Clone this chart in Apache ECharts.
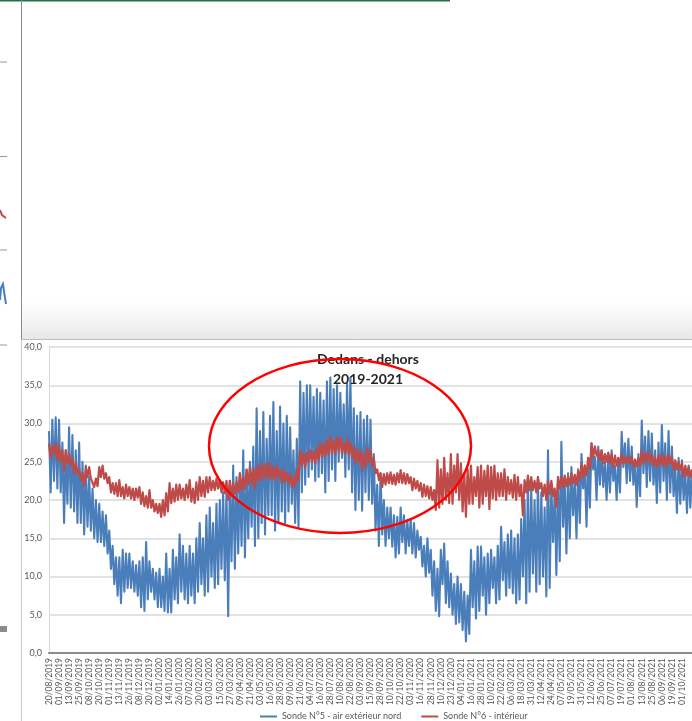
<!DOCTYPE html>
<html><head><meta charset="utf-8">
<script src="https://cdn.jsdelivr.net/npm/echarts@6/dist/echarts.min.js"></script>
<style>html,body{margin:0;padding:0;background:#fff;overflow:hidden}#c{width:692px;height:721px}</style>
</head><body><div id="c"></div>
<script>
// Tick labels of the category axis (one every ~12.5 days)
const tickLabels = [
  "20/08/2019","01/09/2019","13/09/2019","25/09/2019","08/10/2019","20/10/2019","01/11/2019","13/11/2019",
  "26/11/2019","08/12/2019","20/12/2019","02/01/2020","14/01/2020","26/01/2020","07/02/2020","20/02/2020",
  "03/03/2020","15/03/2020","27/03/2020","09/04/2020","21/04/2020","03/05/2020","16/05/2020","28/05/2020",
  "09/06/2020","21/06/2020","04/07/2020","16/07/2020","28/07/2020","10/08/2020","22/08/2020","03/09/2020",
  "15/09/2020","28/09/2020","10/10/2020","22/10/2020","03/11/2020","16/11/2020","28/11/2020","10/12/2020",
  "23/12/2020","04/01/2021","16/01/2021","28/01/2021","10/02/2021","22/02/2021","06/03/2021","18/03/2021",
  "31/03/2021","12/04/2021","24/04/2021","07/05/2021","19/05/2021","31/05/2021","12/06/2021","25/06/2021",
  "07/07/2021","19/07/2021","01/08/2021","13/08/2021","25/08/2021","06/09/2021","19/09/2021","01/10/2021"
];
const samplesPerTick = 6;

// Sonde N°5 - air extérieur nord (alternating daily highs / lows)
const outdoorTemp = [
  29,21,30.5,22.5,30.8,21.5,  30.5,21,27.5,17,26.5,19.5,  29.5,19,28.5,18.5,26.5,17,  27.5,17,25,15.5,24.5,16.5,
  23,16,21.5,15,20,14.5,  19.5,14.5,18.5,14,18,13,  16,11,14,9,12.5,7.5,  12.5,6.5,13.5,8,13,8.5,
  13,8.5,12,8,11.5,7.5,  12,6,12.5,5.5,14.5,7,  12,8,11,7,10.5,6,  11,6,10,5.5,13,5.3,
  11,5.3,13.5,7,12.5,6.5,  15.5,8,14,7,13,6.5,  14,7.5,13,6.5,15,8,  17,9,15,7.5,18,8,
  19,10,17,8.5,19.5,9,  20,11,21,9.5,21.5,4.8,  22.5,12,24.5,11,23,13,  23.5,14,26.5,12.5,24,15,
  25,16.5,27,14,32,15,  29,17,31.5,15.5,28,18,  31,18,32.8,16,29,17,  32.2,18.5,30,17,31,18.5,
  29.5,19.5,26.5,17,28,16.5,  35.5,21,34,22,35,23,  35,24,33.5,22.5,34.5,23,  34,23.5,33,21,35.5,22.5,
  36,24,34.5,22.5,35,25,  34,25.5,32.5,23,35.2,24,  36,21,32,18.7,31,20,  31.5,18.6,30.5,21,31,20,
  30.5,19.5,26,16,22,14,  23.5,15.5,20,14,19,15,  19,13.9,18,12.5,17.8,13,  19,14.5,18,13,17.4,14,
  17.5,13,17,12.5,16,13.5,  15.2,11.3,14,10,15,10.5,  13.5,7.5,12,5.5,11,4.8,  13.5,9,14.3,6.5,12,6,
  10.4,5,9,3.8,10,4,  9,3,8,1.5,7.5,2.5,  13.5,6,12,4.5,13.9,5.5,  13.9,7.5,12.5,5,13,6.5,
  13.5,8.5,12.5,6.5,14,7,  16.5,9.5,14.5,7.5,15.5,8.5,  16,7.8,15,6.5,15.5,7,  17.5,10,20,6.5,22.5,8,
  21.7,10.4,20,8,23,9,  21,10,19,7.4,26.5,8.5,  22,14.5,21,10.2,23,12,  27.6,16.5,22.5,13,23.5,15,
  24.3,18,22.6,15,24,17,  26,21.5,24.5,16.5,25.5,19,  27.4,24,25.6,20,27,22,  26.5,21.7,25,20,26,21,
  26.5,22.5,24.5,20,25.5,21,  28.9,24.3,27.4,22.2,28,22.5,  27,22,25.2,19.1,26,20.5,  30.4,23.5,28.3,21.7,29,22.5,
  28.7,22,26.5,19.6,27.5,21,  29.8,22.5,27.4,20,29,21,  27,20.5,24.3,18.3,25.5,19.5,  25.2,20,23.5,18.3,24.5,19,
  24
];

// Sonde N°6 - intérieur
const indoorTemp = [
  27.4,25.5,27,26,27.5,25.2,  27,25,26.5,23.8,26.5,24.8,  26,24.5,25.5,23.5,24.8,23.5,  24,22.5,23.5,21.8,24.3,23,
  24.3,22.8,23,21.7,22.8,21.8,  24.3,23,24.5,22.8,23.5,22.2,  23,21,22.2,20.8,22.2,20.5,  22.6,20.5,21.7,20.2,22,20.5,
  21.7,20.2,21.5,20,21.5,20.3,  21.7,19.5,21,19.2,20.5,19,  21.3,19,20,18.5,19.5,18.3,  19.5,17.8,20,18,20.9,18.5,
  22.2,19.6,21.5,19.8,22,20,  22,20.2,21.5,20,22,20.3,  22.6,19.8,21.5,19.6,22.3,20,  23,20.5,22.5,20.4,23,21,
  23,21.3,22.5,21.3,22.8,21.5,  22.6,21,22.3,20.9,22.5,20,  22.5,20.5,22.2,20.8,22.4,21,  23.5,21.3,23,21.5,23.9,22,
  24.3,22.2,24,21.5,24.3,22.5,  24.8,22.6,24.5,23,24.8,22.8,  24.8,22.8,24.3,22.6,24.5,23,  23.9,22.2,24,22.5,23.5,22.2,
  23.4,21.7,23,21.8,24,22.5,  26.5,24.5,26,24.3,26.2,25,  26.5,25,26.3,24.8,26.8,25.3,  27.5,25.6,27.3,25.8,27.8,26,
  28.3,26.2,27.8,26,28.2,26.5,  28.2,26,27.5,26.2,28,26,  27.5,25.5,27,24.8,26.5,25,  26.5,23.9,26,24.3,26.8,25,
  26.5,24.5,25.5,23.5,24,22.6,  23.5,21.7,23.4,22,23.5,22.2,  23.6,22.1,23.3,22,23.5,22.3,  23.9,22.2,23.5,22.1,23.4,22.2,
  23,21.3,22.8,21.5,22.5,21.2,  22.2,20.4,22,20.5,21.8,20.2,  21.7,20,21.3,18.7,25.2,19,  24,19.5,25.5,20,23.5,19.6,
  26,19.5,24.5,21,26,20,  24.8,18.5,23.5,17.8,24,19.5,  24.5,19.5,23,20.5,24.3,19,  24.5,19.5,23.8,20.5,24.5,18.8,
  24.3,20.2,24.5,20,23.5,20.5,  23.5,20.5,24,20,23,20.8,  22.6,20.3,23.3,20,23,20.5,  22,18,22.6,21,23.2,21.3,
  23,21.3,22.5,21,23,21.5,  22.2,20.5,22,20,22.5,20.8,  22.5,20.5,21.5,19.1,23,21.5,  23,21.7,23.2,21.8,23,22,
  23.5,22.2,23.3,22,23.8,22.5,  24.8,23,24.5,23.2,25.5,24,  27.4,25.6,27,25.8,26.5,25.2,  26.5,24.8,26,25,26.2,24.8,
  26,24.3,25.8,24.5,25.5,24.5,  26,24.8,25.5,24.8,25.8,24.8,  25.6,24.3,25.3,24.4,25.5,24.5,  26.5,24.8,26,25,26.3,24.9,
  26,24.5,25.5,24.3,25.8,24.6,  26,24.5,25.7,24.3,26,24.8,  25.6,23.9,25.2,24,25,23.9,  24.8,23,24.5,23.2,24.3,23,
  24
];

const seriesNames = ["Sonde N°5 - air extérieur nord", "Sonde N°6 - intérieur"];
const titleText = "Dedans - dehors\n2019-2021";

const categories = outdoorTemp.map((_, i) => {
  const t = Math.floor(i / samplesPerTick);
  if (i % samplesPerTick === 0 && t < tickLabels.length) return tickLabels[t];
  return "s" + i;
});

const chart = echarts.init(document.getElementById('c'), null, {renderer: 'canvas'});
const font = "Lato, 'Liberation Sans', sans-serif";
chart.setOption({
  animation: false,
  backgroundColor: '#ffffff',
  title: {
    text: titleText, left: 363, top: 344, textAlign: 'center',
    textStyle: {fontFamily: font, fontSize: 14, fontWeight: 'bold', color: '#262626', lineHeight: 20}
  },
  legend: {
    left: 255, top: 707, itemGap: 20, itemWidth: 17, itemHeight: 2, icon: 'rect',
    textStyle: {fontFamily: font, fontSize: 9, color: '#595959'},
    data: seriesNames
  },
  grid: {left: 49, right: -8, top: 347, bottom: 68},
  xAxis: {
    type: 'category', data: categories, boundaryGap: false,
    axisLine: {lineStyle: {color: '#8c8c8c', width: 2}},
    axisTick: {show: false},
    axisLabel: {
      interval: samplesPerTick - 1, rotate: 90, fontFamily: font, fontSize: 8.5, color: '#595959', margin: 5,
      formatter: v => (v.charAt(0) === 's' ? '' : v)
    },
    splitLine: {show: false}
  },
  yAxis: {
    type: 'value', min: 0, max: 40, interval: 5,
    axisLine: {show: true, lineStyle: {color: '#d9d9d9', width: 1}},
    axisTick: {show: false},
    axisLabel: {fontFamily: font, fontSize: 9, color: '#595959', margin: 7,
      formatter: v => v.toFixed(1).replace('.', ',')},
    splitLine: {lineStyle: {color: '#d9d9d9', width: 1.5}}
  },
  series: [
    {name: seriesNames[0], type: 'line', data: outdoorTemp, showSymbol: false, symbol: 'none',
      lineStyle: {color: '#4a7ebb', width: 2.1, join: 'round'}, itemStyle: {color: '#4a7ebb'}},
    {name: seriesNames[1], type: 'line', data: indoorTemp, showSymbol: false, symbol: 'none',
      lineStyle: {color: '#be4b48', width: 2.2, join: 'round'}, itemStyle: {color: '#be4b48'}}
  ],
  graphic: [
    {type: 'rect', shape: {x: 22, y: 300, width: 670, height: 39},
      style: {fill: new echarts.graphic.LinearGradient(0, 0, 0, 1, [{offset: 0, color: 'rgba(235,235,235,0)'}, {offset: 1, color: 'rgba(225,225,225,0.8)'}])}, silent: true},
    {type: 'rect', shape: {x: 0, y: 0, width: 450, height: 1.5}, style: {fill: '#217346'}, silent: true},
    {type: 'line', shape: {x1: 21.5, y1: 0, x2: 21.5, y2: 339}, style: {stroke: '#8a8a8a', lineWidth: 1}, silent: true},
    {type: 'line', shape: {x1: 21.5, y1: 339, x2: 21.5, y2: 721}, style: {stroke: '#c8c8c8', lineWidth: 1}, silent: true},
    {type: 'line', shape: {x1: 21, y1: 339.5, x2: 692, y2: 339.5}, style: {stroke: '#bdbdbd', lineWidth: 1}, silent: true},
    {type: 'line', shape: {x1: 0, y1: 62, x2: 7, y2: 62}, style: {stroke: '#9a9a9a', lineWidth: 1}, silent: true},
    {type: 'line', shape: {x1: 0, y1: 156.5, x2: 7, y2: 156.5}, style: {stroke: '#9a9a9a', lineWidth: 1}, silent: true},
    {type: 'line', shape: {x1: 0, y1: 250, x2: 7, y2: 250}, style: {stroke: '#9a9a9a', lineWidth: 1}, silent: true},
    {type: 'line', shape: {x1: 0, y1: 345, x2: 7, y2: 345}, style: {stroke: '#9a9a9a', lineWidth: 1}, silent: true},
    {type: 'polyline', shape: {points: [[0, 210], [2, 215], [6, 218]]}, style: {stroke: '#be4b48', lineWidth: 2, fill: null}, silent: true},
    {type: 'polyline', shape: {points: [[0, 300], [1, 288], [3, 284], [5, 298], [6, 304]]}, style: {stroke: '#4a7ebb', lineWidth: 2, fill: null}, silent: true},
    {type: 'rect', shape: {x: 0, y: 626, width: 7, height: 6}, style: {fill: '#8c8c8c'}, silent: true},
    {type: 'ellipse', shape: {cx: 340, cy: 446, rx: 131, ry: 87}, style: {fill: null, stroke: '#ff0000', lineWidth: 2.5}, z: 100, silent: true}
  ]
});
</script></body></html>
